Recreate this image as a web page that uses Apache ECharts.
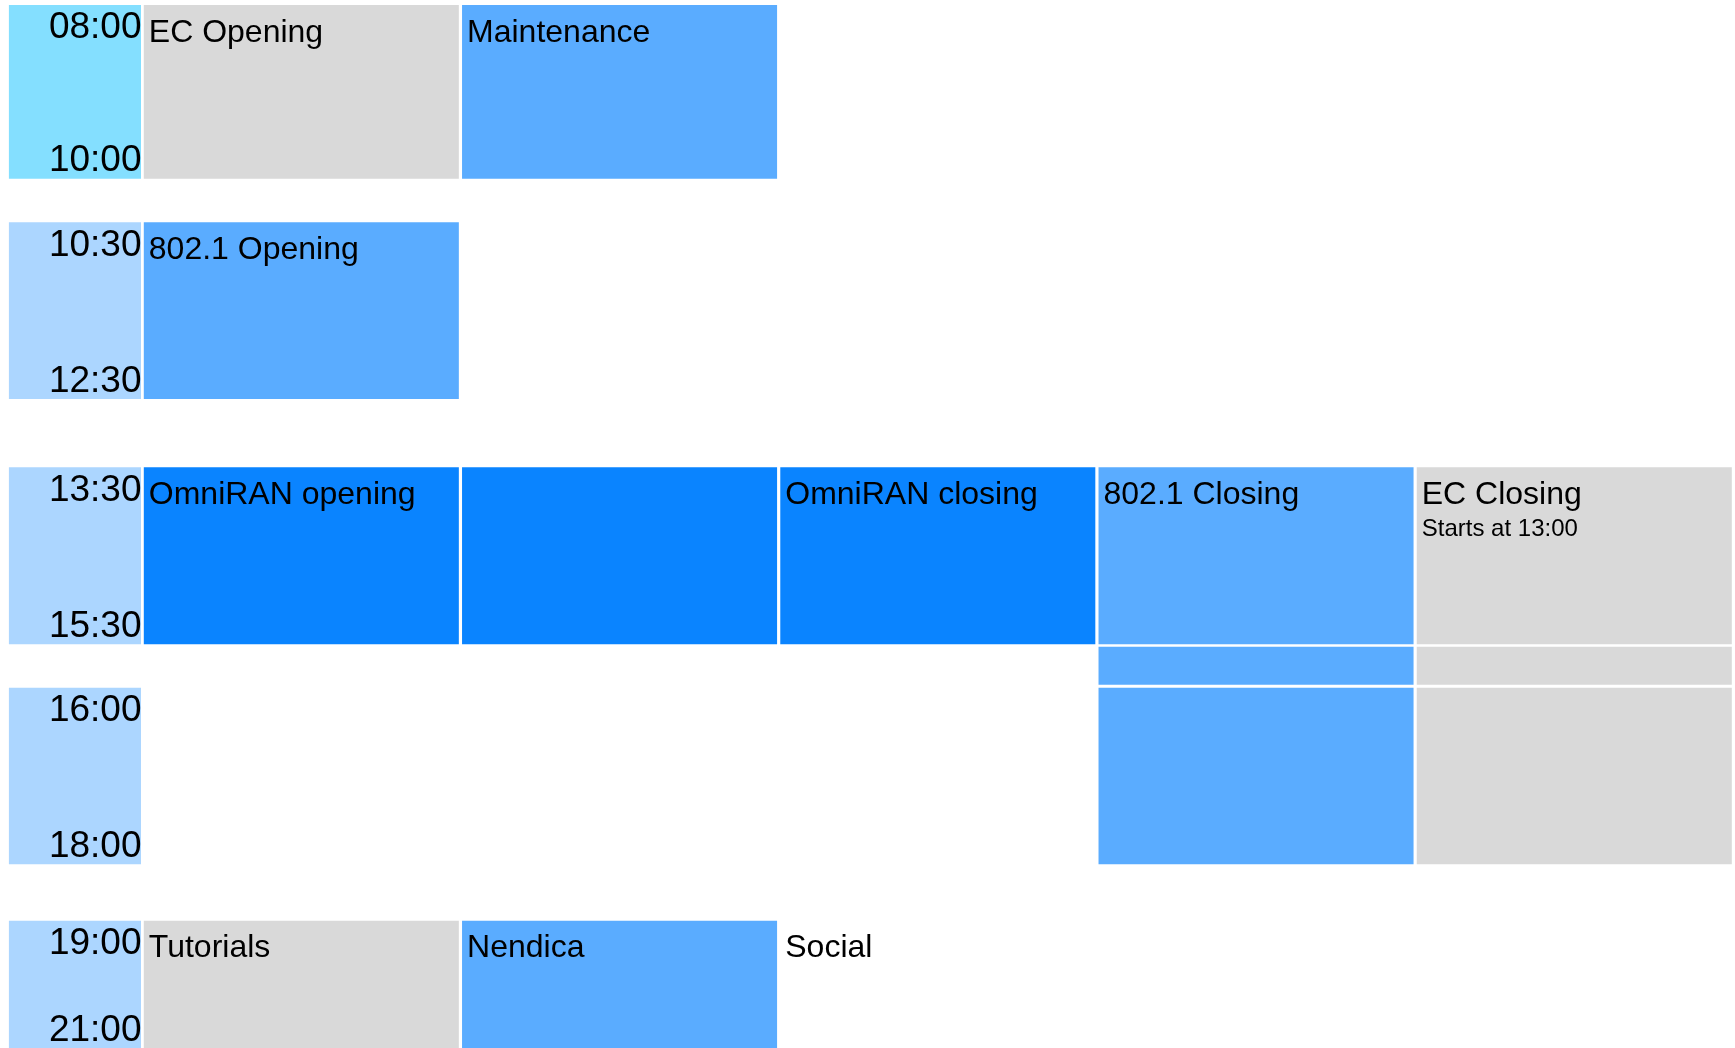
<!DOCTYPE html>
<html>
<head>
<meta charset="utf-8">
<script src="https://cdn.jsdelivr.net/npm/echarts@6/dist/echarts.min.js"></script>
<style>
  html, body { margin: 0; padding: 0; background: #ffffff; }
  #main { width: 1735px; height: 1048px; }
</style>
</head>
<body>
<div id="main"></div>
<script>
// ---------- data ----------
const columns = ['Track 1', 'Track 2', 'Track 3', 'Track 4', 'Track 5'];

const slotStart = ['08:00', '10:30', '13:30', '15:30', '16:00', '19:00'];
const slotEnd   = ['10:00', '12:30', '15:30', '16:00', '18:00', '21:00'];
const slotShowTime = [true, true, true, false, true, true];
const currentSlot = 0;

const sessionSlot  = [0, 0, 1, 2, 2, 2, 2, 2, 3, 3, 4, 4, 5, 5, 5];
const sessionCol   = [0, 1, 0, 0, 1, 2, 3, 4, 3, 4, 3, 4, 0, 1, 2];
const sessionTitle = ['EC Opening', 'Maintenance', '802.1 Opening', 'OmniRAN opening', '', 'OmniRAN closing',
                      '802.1 Closing', 'EC Closing', '', '', '', '', 'Tutorials', 'Nendica', 'Social'];
const sessionNote  = ['', '', '', '', '', '', '', 'Starts at 13:00', '', '', '', '', '', '', ''];
const sessionGroup = ['EC', '802.1', '802.1', 'OmniRAN', 'OmniRAN', 'OmniRAN', '802.1', 'EC',
                      '802.1', 'EC', '802.1', 'EC', 'EC', '802.1', 'Social'];

// ---------- style / layout ----------
const groupColor = { 'EC': '#d9d9d9', '802.1': '#5aacff', 'OmniRAN': '#0a84ff', 'Social': null };
const timeColor = '#acd6ff';
const timeColorCurrent = '#84dfff';
const rowTop    = [5, 222.3, 467.3, 646.7, 687.7, 920.7];
const rowHeight = [173.7, 176.7, 177, 38, 176.6, 176.6];
const FONT = '"Liberation Sans", Arial, sans-serif';
const GAP = 3.2;

function toMin(t) { const p = t.split(':'); return (+p[0]) * 60 + (+p[1]); }

const grid = [], xAxis = [], yAxis = [], series = [];

slotStart.forEach((s, i) => {
  const yMin = toMin(s), yMax = toMin(slotEnd[i]);
  // sessions grid
  const gi = grid.length;
  grid.push({ left: 143.8, top: rowTop[i], width: 318.5 * columns.length, height: rowHeight[i], containLabel: false });
  xAxis.push({ type: 'category', gridIndex: gi, data: columns, show: false, boundaryGap: true });
  yAxis.push({ type: 'value', gridIndex: gi, min: yMin, max: yMax, inverse: true, show: false });
  const data = [];
  sessionSlot.forEach((sl, k) => { if (sl === i) data.push([sessionCol[k], yMin, yMax, k]); });
  series.push({
    type: 'custom', xAxisIndex: gi, yAxisIndex: gi, silent: true, animation: false,
    data: data,
    renderItem: function (params, api) {
      const k = api.value(3);
      const c = api.coord([api.value(0), api.value(1)]);
      const c2 = api.coord([api.value(0), api.value(2)]);
      const bw = api.size([1, 0])[0];
      const left = c[0] - bw / 2, top = c[1], h = c2[1] - c[1];
      const children = [];
      const col = groupColor[sessionGroup[k]];
      if (col) children.push({ type: 'rect', shape: { x: left, y: top, width: bw - GAP, height: h }, style: { fill: col } });
      if (sessionTitle[k]) children.push({ type: 'text', x: left + 5, y: top + 11.8,
        style: { text: sessionTitle[k], fill: '#000', font: '32px ' + FONT, align: 'left', verticalAlign: 'top' } });
      if (sessionNote[k]) children.push({ type: 'text', x: left + 5, y: top + 50.5,
        style: { text: sessionNote[k], fill: '#000', font: '24px ' + FONT, align: 'left', verticalAlign: 'top' } });
      return { type: 'group', children: children };
    }
  });
  // time column grid
  if (slotShowTime[i]) {
    const ti = grid.length;
    grid.push({ left: 8.9, top: rowTop[i], width: 132.1, height: rowHeight[i], containLabel: false });
    xAxis.push({ type: 'category', gridIndex: ti, data: ['time'], show: false });
    yAxis.push({ type: 'value', gridIndex: ti, min: yMin, max: yMax, inverse: true, show: false });
    series.push({
      type: 'custom', xAxisIndex: ti, yAxisIndex: ti, silent: true, animation: false,
      data: [[0, yMin, yMax, i]],
      renderItem: function (params, api) {
        const si = api.value(3);
        const c = api.coord([0, api.value(1)]);
        const c2 = api.coord([0, api.value(2)]);
        const bw = api.size([1, 0])[0];
        const left = c[0] - bw / 2, top = c[1], bottom = c2[1];
        return { type: 'group', children: [
          { type: 'rect', shape: { x: left, y: top, width: bw, height: bottom - top },
            style: { fill: si === currentSlot ? timeColorCurrent : timeColor } },
          { type: 'text', x: left + bw + 0.5, y: top + 4.5,
            style: { text: slotStart[si], fill: '#000', font: '37px ' + FONT, align: 'right', verticalAlign: 'top' } },
          { type: 'text', x: left + bw + 0.5, y: bottom + 0.8,
            style: { text: slotEnd[si], fill: '#000', font: '37px ' + FONT, align: 'right', verticalAlign: 'bottom' } }
        ] };
      }
    });
  }
});

const chart = echarts.init(document.getElementById('main'), null, { renderer: 'canvas' });
chart.setOption({
  backgroundColor: '#ffffff',
  animation: false,
  grid: grid, xAxis: xAxis, yAxis: yAxis, series: series
});
</script>
</body>
</html>
